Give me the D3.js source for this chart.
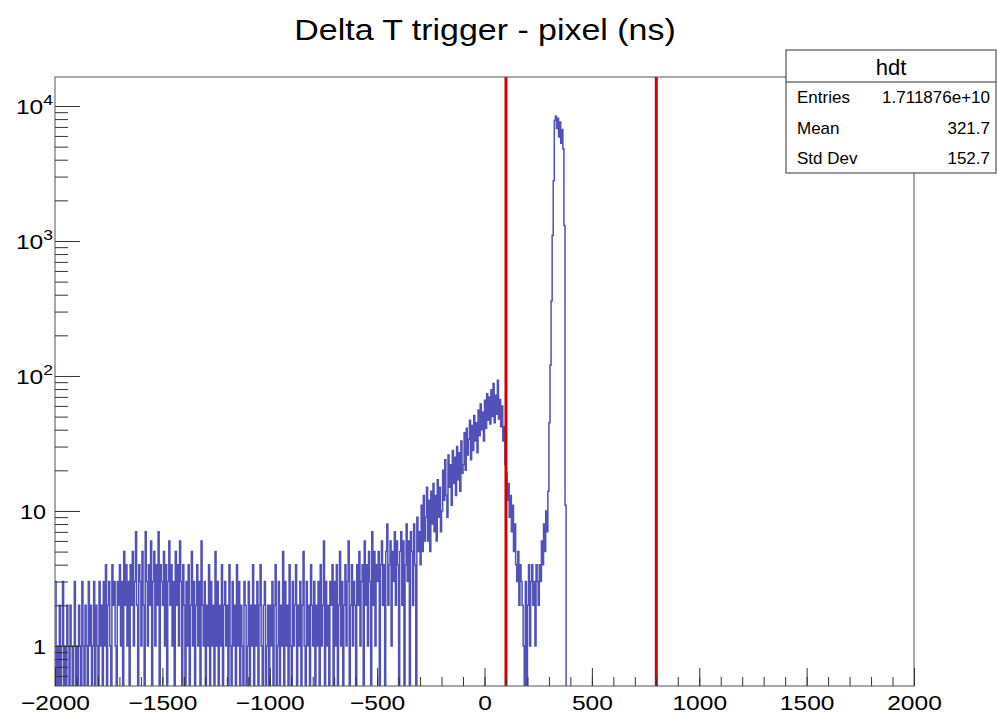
<!DOCTYPE html>
<html>
<head>
<meta charset="utf-8">
<script src="https://d3js.org/d3.v7.min.js"></script>
<style>
  body { margin: 0; background: #fff; }
  text { font-family: "Liberation Sans", Arial, Helvetica, sans-serif; fill: #000; }
</style>
</head>
<body>
<svg id="chart" width="997" height="715"></svg>
<script>
// hdt histogram, 5 ns bins starting at -2000 ns (nothing above 400 ns)
var binStart = -2000, binWidth = 5;
var counts = [
  3,0,1,0,2,0,1,3,0,1,0,2,1,0,2,1,0,1,3,0,            // -2000
  1,0,2,1,0,3,1,0,2,1,0,3,1,2,0,1,3,0,2,1,            // -1900
  0,3,1,2,0,3,1,4,0,2,3,1,0,4,2,3,1,0,3,2,            // -1800
  4,1,3,0,5,2,4,1,3,0,4,2,5,1,3,7,2,0,4,3,            // -1700
  1,5,2,0,7,3,1,4,2,6,0,3,5,1,4,2,7,0,4,3,            // -1600
  2,5,1,4,0,3,6,2,4,1,3,0,5,2,4,1,6,3,0,4,            // -1500
  2,0,3,1,4,0,2,5,1,3,0,2,4,1,3,0,6,2,1,3,            // -1400
  0,2,1,4,0,3,1,2,0,5,1,3,0,2,1,4,0,2,3,1,            // -1300
  2,0,4,1,0,3,1,2,0,4,1,3,0,2,1,0,3,2,0,1,            // -1200
  3,0,2,1,4,0,2,1,3,0,2,4,1,0,2,3,0,1,2,0,            // -1100
  2,1,3,0,2,4,0,1,3,0,2,1,5,0,3,1,2,0,4,1,            // -1000
  0,3,1,2,4,0,2,1,3,0,2,5,1,0,3,1,2,0,4,2,            // -900
  1,3,0,2,1,3,0,4,1,2,6,0,3,1,2,0,3,2,4,0,            // -800
  3,1,4,0,2,5,1,3,0,2,4,1,3,6,0,2,4,1,3,2,            // -700
  0,4,2,5,1,3,4,0,6,2,4,1,5,3,0,7,2,5,1,4,            // -600
  3,5,0,4,6,2,4,0,5,8,2,4,6,1,5,3,7,2,6,4,            // -500
  0,5,7,2,6,0,4,8,3,6,0,7,5,2,8,4,0,9,5,7,            // -400
  4,11,5,13,6,9,15,6,12,5,14,8,16,7,13,6,17,9,15,7,   // -300
  10,20,12,24,13,9,26,15,22,11,28,16,25,13,30,17,27,14,33,19, // -200
  22,38,20,41,26,34,47,24,43,28,51,33,45,27,56,36,62,40,54,33, // -100
  66,41,74,47,70,44,79,50,88,45,72,52,93,48,67,42,60,33,42,22, // 0
  19,12,16,9,13,7,11,5,8,4,3,5,2,4,3,2,1,0,3,0,       // 100
  2,4,1,3,4,2,3,1,4,3,2,4,3,6,4,8,5,10,7,14,          // 200
  45,120,360,1100,2800,7800,8400,6800,8100,5900,7600,5300,6700,4800,1300,11,0,0,0,0 // 300
];

var cutLines = [100, 800];
var xTicksMajor = [-2000, -1500, -1000, -500, 0, 500, 1000, 1500, 2000];
var yTicksMajor = [1, 10, 100, 1000, 10000];
var yTickBase = ["1", "10", "10", "10", "10"];
var yTickExp = ["", "", "2", "3", "4"];
var titleText = "Delta T trigger - pixel (ns)";
var statsTitle = "hdt";
var statsNames = ["Entries", "Mean", "Std Dev"];
var statsValues = ["1.711876e+10", "321.7", "152.7"];

var svg = d3.select("#chart");
var L = 55, R = 914, T = 77, B = 686;
var stretch = 1.17;

var x = d3.scaleLinear().domain([-2000, 2000]).range([L, R]);
var y = d3.scaleLog().domain([0.505, 16400]).range([B, T]);

svg.append("rect").attr("width", 997).attr("height", 715).attr("fill", "#fff");

svg.append("clipPath").attr("id", "frameClip")
  .append("rect").attr("x", L).attr("y", T).attr("width", R - L).attr("height", B - T);

// histogram drawn as steps
var pts = counts.map(function(c, i) { return [binStart + i * binWidth, c]; });
pts.push([binStart + counts.length * binWidth, 0]);

var step = d3.line()
  .x(function(d) { return x(d[0]); })
  .y(function(d) { return d[1] > 0 ? y(d[1]) : B + 3; })
  .curve(d3.curveStepAfter);

svg.append("path")
  .attr("clip-path", "url(#frameClip)")
  .attr("d", step(pts))
  .attr("fill", "none")
  .attr("stroke", "#5151b9")
  .attr("stroke-width", 1.5);

// cut lines
svg.selectAll(".cut")
  .data(cutLines)
  .enter().append("line")
    .attr("class", "cut")
    .attr("x1", function(d) { return x(d); })
    .attr("x2", function(d) { return x(d); })
    .attr("y1", T).attr("y2", B)
    .attr("stroke", "#d30000")
    .attr("stroke-width", 3);

// frame
svg.append("rect")
  .attr("x", L).attr("y", T).attr("width", R - L).attr("height", B - T)
  .attr("fill", "none").attr("stroke", "#555").attr("stroke-width", 1);

// x axis
var xMinor = d3.range(-2000, 2001, 100);
svg.append("g")
  .attr("transform", "translate(0," + B + ")")
  .style("color", "#333")
  .call(d3.axisBottom(x).tickValues(xMinor).tickSize(-9).tickFormat(""))
  .call(function(g) { g.select(".domain").remove(); });

var xAx = svg.append("g")
  .attr("transform", "translate(0," + B + ")")
  .style("color", "#333")
  .call(d3.axisBottom(x).tickValues(xTicksMajor).tickSize(-18).tickPadding(9).tickFormat(d3.format("d")))
  .call(function(g) { g.select(".domain").remove(); });
xAx.selectAll("text")
  .attr("font-size", 21)
  .attr("font-family", "Liberation Sans, Arial, sans-serif")
  .style("fill", "#000")
  .attr("transform", "scale(" + stretch + ",1)");

// y axis
var yMinor = [];
[-1, 0, 1, 2, 3, 4].forEach(function(p) {
  for (var m = 2; m <= 9; m++) {
    var v = m * Math.pow(10, p);
    if (v > y.domain()[0] && v < y.domain()[1]) yMinor.push(v);
  }
});
svg.append("g")
  .attr("transform", "translate(" + L + ",0)")
  .style("color", "#333")
  .call(d3.axisLeft(y).tickValues(yMinor).tickSize(-13).tickFormat(""))
  .call(function(g) { g.select(".domain").remove(); });
svg.append("g")
  .attr("transform", "translate(" + L + ",0)")
  .style("color", "#333")
  .call(d3.axisLeft(y).tickValues(yTicksMajor).tickSize(-25).tickFormat(""))
  .call(function(g) { g.select(".domain").remove(); });

var yLab = svg.append("g");
yTicksMajor.forEach(function(v, i) {
  var hasExp = yTickExp[i] !== "";
  var g = yLab.append("g")
    .attr("transform", "translate(" + (hasExp ? 53 : 46) + "," + (y(v) + 8) + ") scale(" + stretch + ",1)");
  var t = g.append("text").attr("text-anchor", "end").attr("font-size", hasExp ? 21 : 20).text(yTickBase[i]);
  if (hasExp) t.append("tspan").attr("font-size", 15).attr("dy", -9).text(yTickExp[i]);
});

// title
svg.append("g")
  .attr("transform", "translate(485,40) scale(" + stretch + ",1)")
  .append("text")
    .attr("text-anchor", "middle")
    .attr("font-size", 29)
    .text(titleText);

// stats box
var sb = svg.append("g");
sb.append("rect")
  .attr("x", 786).attr("y", 50).attr("width", 210).attr("height", 123)
  .attr("fill", "#fff").attr("stroke", "#333").attr("stroke-width", 1);
sb.append("line")
  .attr("x1", 786).attr("x2", 996).attr("y1", 82).attr("y2", 82)
  .attr("stroke", "#333");
sb.append("text")
  .attr("x", 891).attr("y", 75).attr("text-anchor", "middle")
  .attr("font-size", 22).text(statsTitle);
statsNames.forEach(function(n, i) {
  var yy = 103 + i * 30.5;
  sb.append("text").attr("x", 797).attr("y", yy).attr("font-size", 17).text(n);
  sb.append("text").attr("x", 990).attr("y", yy).attr("text-anchor", "end")
    .attr("font-size", 17).text(statsValues[i]);
});
</script>
</body>
</html>
